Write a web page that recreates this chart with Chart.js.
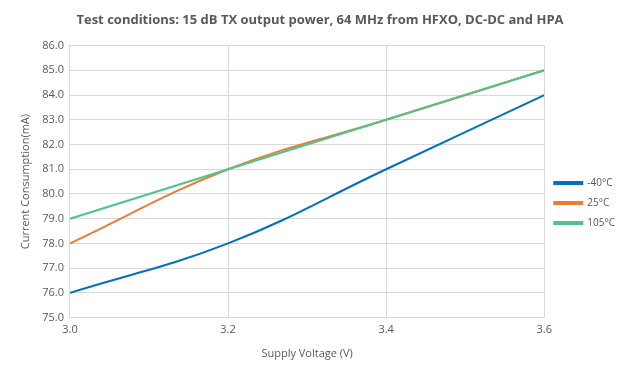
<!DOCTYPE html>
<html>
<head>
<meta charset="utf-8">
<script src="https://cdn.jsdelivr.net/npm/chart.js@4"></script>
<style>
  html, body { margin: 0; padding: 0; background: #fff; }
  #wrap { width: 641px; height: 377px; position: relative; }
</style>
</head>
<body>
<div id="wrap"><canvas id="currentChart"></canvas></div>
<script>
// supply voltage sweep and current per temperature
const voltages = [3.0, 3.2, 3.4, 3.6];
const seriesNames = ['-40°C', '25°C', '105°C'];
const cold = [76.0, 78.0, 81.0, 84.0];
const room = [78.0, 81.0, 83.0, 85.0];
const hot = [79.0, 81.0, 83.0, 85.0];
const xTicks = [3.0, 3.2, 3.4, 3.6];
const yTicks = [75, 76, 77, 78, 79, 80, 81, 82, 83, 84, 85, 86];

const colors = ['#0070c0', '#ed7d31', '#4fc38a'];
const font = "'Open Sans', 'Liberation Sans', sans-serif";
Chart.defaults.font.family = font;
Chart.defaults.color = '#595959';

function toPoints(vals) {
  return voltages.map((v, i) => ({ x: v, y: vals[i] }));
}

const ctx = document.getElementById('currentChart').getContext('2d');
const chart = new Chart(ctx, {
  type: 'line',
  data: {
    datasets: [cold, room, hot].map((vals, i) => ({
      label: seriesNames[i],
      data: toPoints(vals),
      borderColor: colors[i],
      backgroundColor: colors[i],
      borderWidth: 2,
      pointRadius: 0,
      tension: 0.4,
      fill: false,
      order: 3 - i   // last series drawn on top, like the original
    }))
  },
  options: {
    responsive: true,
    maintainAspectRatio: false,
    animation: false,
    layout: { padding: { top: 4, right: 16, left: 15, bottom: 13 } },
    plugins: {
      title: {
        display: true,
        text: 'Test conditions: 15 dB TX output power, 64 MHz from HFXO, DC-DC and HPA',
        color: '#595959',
        font: { size: 13, weight: 'bold' },
        padding: { top: 8, bottom: 18 }
      },
      legend: {
        position: 'right',
        reverse: true,
        // blank title just pushes the entries down a bit
        title: { display: true, text: ' ', font: { size: 10 }, padding: { top: 13, bottom: 13 } },
        labels: {
          boxWidth: 28,
          boxHeight: 2,
          padding: 10,
          font: { size: 10 },
          color: '#595959'
        }
      },
      tooltip: { enabled: false }
    },
    scales: {
      x: {
        type: 'linear',
        min: 3.0,
        max: 3.6,
        afterBuildTicks: axis => { axis.ticks = xTicks.map(v => ({ value: v })); },
        ticks: {
          callback: v => Number(v).toFixed(1),
          font: { size: 11 },
          color: '#595959',
          padding: 6
        },
        grid: { color: '#d9d9d9', drawTicks: false },
        border: { color: '#d9d9d9' },
        title: {
          display: true,
          text: 'Supply Voltage (V)',
          font: { size: 11 },
          color: '#595959',
          padding: { top: 4 }
        }
      },
      y: {
        min: 75,
        max: 86,
        afterBuildTicks: axis => { axis.ticks = yTicks.map(v => ({ value: v })); },
        ticks: {
          callback: v => Number(v).toFixed(1),
          font: { size: 11 },
          color: '#595959',
          padding: 6
        },
        grid: { color: '#d9d9d9', drawTicks: false },
        border: { color: '#d9d9d9' },
        title: {
          display: true,
          text: 'Current Consumption(mA)',
          font: { size: 11 },
          color: '#595959',
          padding: { bottom: 4 }
        }
      }
    }
  }
});
</script>
</body>
</html>
